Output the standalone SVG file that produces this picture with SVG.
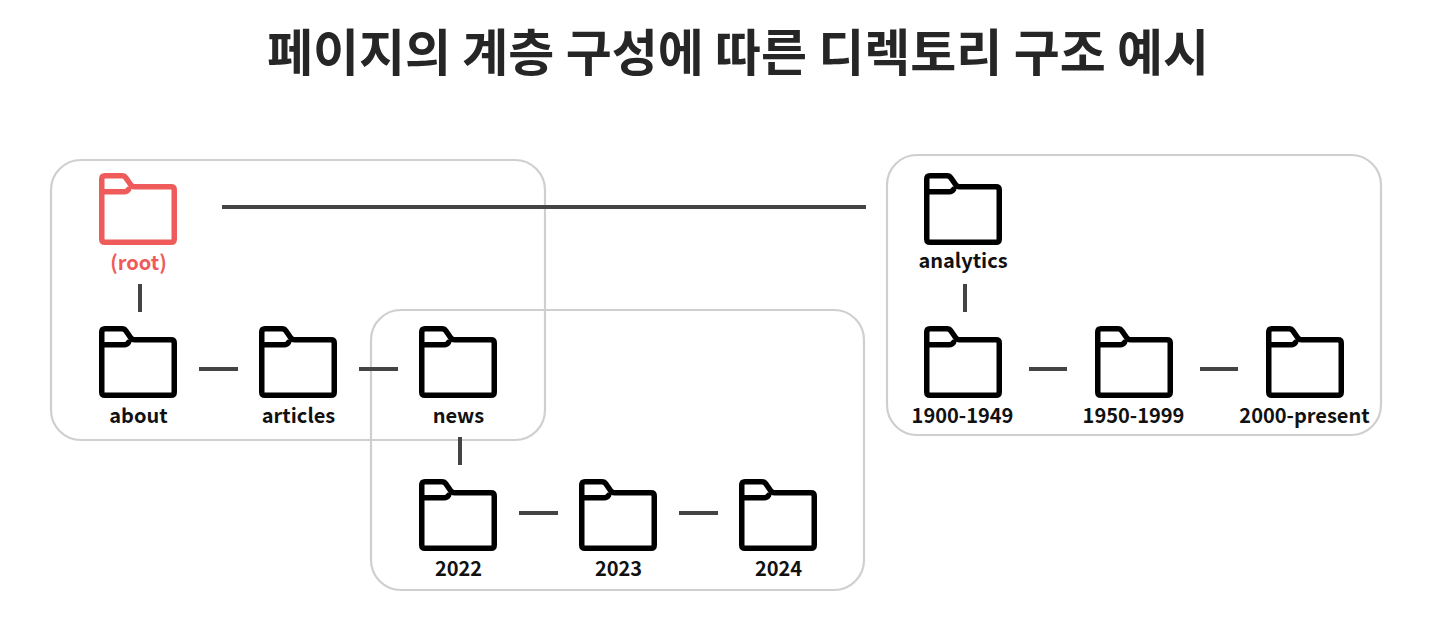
<svg xmlns="http://www.w3.org/2000/svg" width="1440" height="640" viewBox="0 0 1440 640">
<style>
text{font-family:"Noto Sans CJK KR","Noto Sans",sans-serif;text-anchor:middle}
.t{font-size:50px;font-weight:700;fill:#262626}
.l{font-size:20px;font-weight:700;fill:#111}
.r{fill:#ef5a5a}
.b{fill:none;stroke:#cfcfcf;stroke-width:2.2}
.c{stroke:#444;stroke-width:4;fill:none}
.f{fill:none;stroke:#000;stroke-width:5.5;stroke-linejoin:round;stroke-linecap:round}
.fr{stroke:#ef5a5a}
</style>
<defs>
<g id="folder">
<path d="M2.750 6Q2.750 2.750 6 2.750H23Q25.500 2.750 27 5L31.500 11.500Q33 13.800 35.500 13.800H72Q75.250 13.800 75.250 17V66Q75.250 69.250 72 69.250H6Q2.750 69.250 2.750 66Z"/>
<path d="M2.750 18.700H25.500Q28 18.700 29.500 16.500"/>
</g>
</defs>
<rect width="1440" height="640" fill="#fff"/>
<text class="t" x="738" y="71">페이지의 계층 구성에 따른 디렉토리 구조 예시</text>
<g id="groups">
<rect class="b" x="51" y="160" width="494" height="280" rx="30"/>
<rect class="b" x="371" y="310" width="493" height="280" rx="30"/>
<rect class="b" x="887" y="155" width="494" height="280" rx="30"/>
</g>
<g id="connectors">
<path class="c" d="M222 207H866M140 284V312M199 369H238M359 369H398M460 437V465M519 513H558M679 513H718M965 284V312M1029 369H1067M1200 369H1238"/>
</g>
<g id="root"><use href="#folder" class="f fr" x="99" y="173"/><text class="l r" x="138.500" y="270">(root)</text></g>
<g id="about"><use href="#folder" class="f" x="99" y="326"/><text class="l" x="138.500" y="423">about</text></g>
<g id="articles"><use href="#folder" class="f" x="259" y="326"/><text class="l" x="298.500" y="423">articles</text></g>
<g id="news"><use href="#folder" class="f" x="419" y="326"/><text class="l" x="458.500" y="423">news</text></g>
<g id="y2022"><use href="#folder" class="f" x="419" y="479"/><text class="l" x="458.500" y="576">2022</text></g>
<g id="y2023"><use href="#folder" class="f" x="579" y="479"/><text class="l" x="618.500" y="576">2023</text></g>
<g id="y2024"><use href="#folder" class="f" x="739" y="479"/><text class="l" x="778.500" y="576">2024</text></g>
<g id="analytics"><use href="#folder" class="f" x="924" y="173"/><text class="l" x="963" y="268">analytics</text></g>
<g id="p1900"><use href="#folder" class="f" x="924" y="326"/><text class="l" x="962.500" y="423">1900-1949</text></g>
<g id="p1950"><use href="#folder" class="f" x="1095" y="326"/><text class="l" x="1133.500" y="423">1950-1999</text></g>
<g id="p2000"><use href="#folder" class="f" x="1266" y="326"/><text class="l" x="1304.500" y="423">2000-present</text></g>
</svg>
